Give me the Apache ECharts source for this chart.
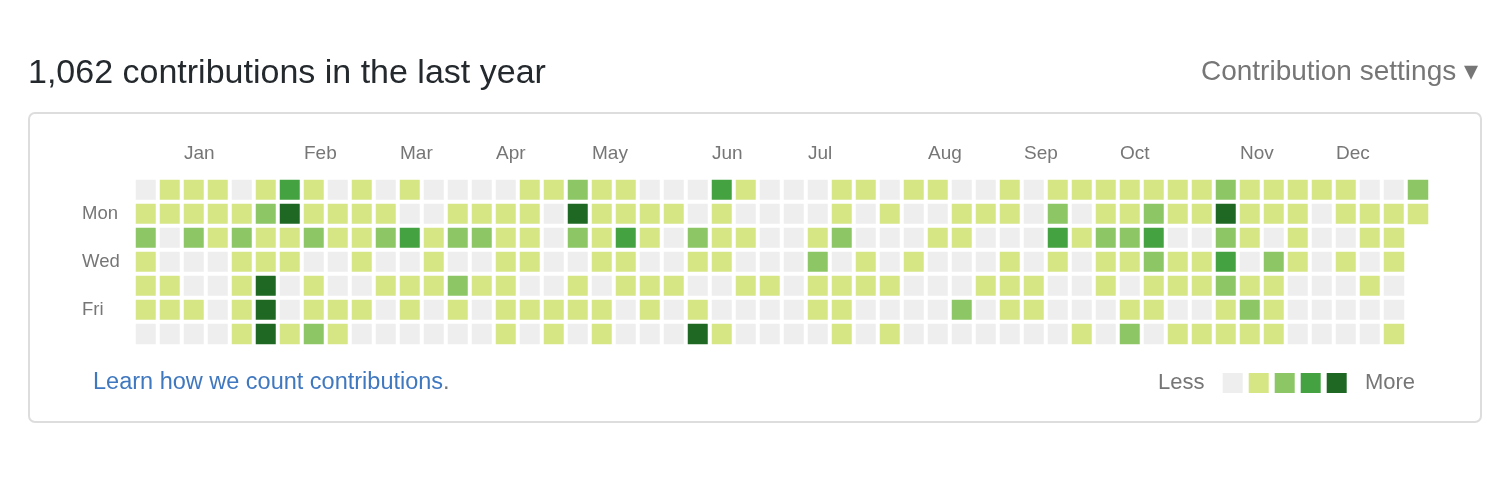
<!DOCTYPE html>
<html>
<head>
<meta charset="utf-8">
<script src="https://cdn.jsdelivr.net/npm/echarts@6/dist/echarts.min.js"></script>
<style>
html,body{margin:0;padding:0;background:#fff;}
#c{width:1512px;height:478px;}
</style>
</head>
<body>
<div id="c"></div>
<script>
// Contributions per day, one array per week (Sun..Sat)
const weeks = [
  [0,3,9,2,1,4,0],
  [2,5,0,0,1,3,0],
  [4,2,10,0,0,1,0],
  [1,3,2,0,0,0,0],
  [0,2,8,3,1,2,4],
  [3,11,1,2,26,24,27],
  [17,30,5,1,0,0,2],
  [2,4,9,0,3,1,10],
  [0,6,2,0,0,1,3],
  [1,3,2,4,0,2,0],
  [0,2,11,0,1,0,0],
  [5,0,18,0,3,2,0],
  [0,0,4,1,2,0,0],
  [0,3,9,0,12,1,0],
  [0,5,10,0,2,0,0],
  [0,2,1,3,1,4,2],
  [3,1,2,5,0,2,0],
  [4,0,0,0,0,1,3],
  [11,25,9,0,2,1,0],
  [3,2,6,1,0,4,2],
  [1,5,16,2,3,0,0],
  [0,2,1,0,4,1,0],
  [0,3,0,0,2,0,0],
  [0,0,10,1,0,2,23],
  [17,2,4,3,0,0,1],
  [2,0,1,0,3,0,0],
  [0,0,0,0,2,0,0],
  [0,0,0,0,0,0,0],
  [0,0,3,9,1,2,0],
  [2,4,11,0,1,3,5],
  [1,0,0,2,4,0,0],
  [0,3,0,0,2,0,1],
  [4,0,0,2,0,0,0],
  [1,0,3,0,0,0,0],
  [0,2,1,0,0,9,0],
  [0,5,0,0,1,0,0],
  [3,2,0,1,4,2,0],
  [0,0,0,0,3,1,0],
  [2,12,18,4,0,0,0],
  [3,0,1,0,0,0,2],
  [6,1,10,2,3,0,0],
  [2,4,9,5,0,1,11],
  [1,10,19,8,2,3,0],
  [4,2,0,1,3,0,2],
  [3,1,0,2,5,0,1],
  [9,28,12,16,10,2,4],
  [2,3,1,0,4,9,3],
  [1,5,0,11,2,1,3],
  [3,2,4,1,0,0,0],
  [2,0,0,0,0,0,0],
  [5,1,0,3,0,0,0],
  [0,2,4,0,1,0,0],
  [0,3,2,1,0,0,5],
  [10,3]
];
const dayNames = ['Sun','Mon','Tue','Wed','Thu','Fri','Sat'];
const dayLabels = ['', 'Mon', '', 'Wed', '', 'Fri', ''];
const monthLabels = ['Jan','Feb','Mar','Apr','May','Jun','Jul','Aug','Sep','Oct','Nov','Dec'];
const monthWeeks = [2,7,11,15,19,24,28,33,37,41,46,50];
const levelColors = ['#eeeeee','#d6e685','#8cc665','#44a340','#1e6823'];
const titleText = '1,062 contributions in the last year';

const FONT = '"Liberation Sans", Arial, Helvetica, sans-serif';
const data = [];
weeks.forEach((w, wi) => w.forEach((v, di) => data.push([wi, di, v])));
const weekCats = weeks.map((w, i) => 'W' + i);
const edgeCats = [];
for (let i = 0; i <= weeks.length; i++) edgeCats.push(String(i));

const chart = echarts.init(document.getElementById('c'), null, {renderer: 'canvas'});
chart.setOption({
  animation: false,
  backgroundColor: '#fff',
  title: [
    {text: titleText, left: 28, top: 57, padding: 0,
     textStyle: {fontFamily: FONT, fontSize: 34, fontWeight: 'normal', color: '#24292e'}},
    {text: 'Contribution settings \u25BE', right: 34, top: 58, padding: 0,
     textStyle: {fontFamily: FONT, fontSize: 28, fontWeight: 'normal', color: '#767676'}},
    {text: '{a|Learn how we count contributions}{b|.}', left: 93, top: 371, padding: 0,
     textStyle: {fontFamily: FONT, fontSize: 23.5, fontWeight: 'normal',
       rich: {a: {fontFamily: FONT, fontSize: 23.5, color: '#4078c0'}, b: {fontFamily: FONT, fontSize: 23.5, color: '#767676'}}}}
  ],
  graphic: [{
    type: 'rect', z: -1, silent: true,
    shape: {x: 29, y: 113, width: 1452, height: 309, r: 6},
    style: {fill: 'none', stroke: '#dddddd', lineWidth: 2}
  }],
  grid: {left: 134, top: 178, width: 54 * 24, height: 7 * 24},
  xAxis: [
    {type: 'category', data: weekCats, axisLine: {show: false}, axisTick: {show: false},
     axisLabel: {show: false}, splitLine: {show: false}, splitArea: {show: false}},
    {type: 'category', data: edgeCats, boundaryGap: false, position: 'top',
     axisLine: {show: false}, axisTick: {show: false}, splitLine: {show: false},
     axisLabel: {interval: 0, align: 'left', verticalAlign: 'middle', margin: 24, padding: [0,0,0,2],
       color: '#767676', fontFamily: FONT, fontSize: 19,
       formatter: (val, idx) => { const k = monthWeeks.indexOf(idx); return k >= 0 ? monthLabels[k] : ''; }}}
  ],
  yAxis: {type: 'category', data: dayNames, inverse: true,
    axisLine: {show: false}, axisTick: {show: false}, splitLine: {show: false},
    axisLabel: {interval: 0, align: 'left', margin: 52, color: '#767676', fontFamily: FONT, fontSize: 18.5,
      formatter: (val, idx) => dayLabels[idx]}},
  visualMap: {
    type: 'piecewise', orient: 'horizontal', left: 1143, top: 357,
    pieces: [
      {value: 0, color: levelColors[0]},
      {min: 1, max: 7, color: levelColors[1]},
      {min: 8, max: 14, color: levelColors[2]},
      {min: 15, max: 21, color: levelColors[3]},
      {min: 22, color: levelColors[4]}
    ],
    itemWidth: 20, itemHeight: 20, itemGap: 6, itemSymbol: 'rect',
    showLabel: false, text: ['  More', 'Less  '], selectedMode: false,
    textStyle: {color: '#767676', fontFamily: FONT, fontSize: 22}
  },
  series: [{
    type: 'heatmap', xAxisIndex: 0, yAxisIndex: 0, data: data,
    itemStyle: {borderColor: '#ffffff', borderWidth: 4},
    emphasis: {disabled: true}
  }]
});
</script>
</body>
</html>
